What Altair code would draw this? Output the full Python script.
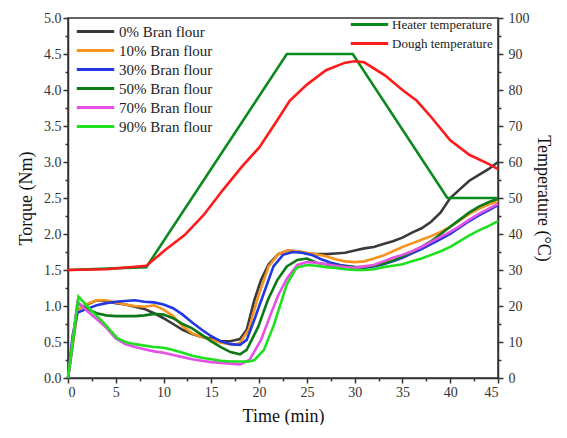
import altair as alt
import pandas as pd

FONT = "Liberation Serif"

series_names = ["0% Bran flour", "10% Bran flour", "30% Bran flour",
                "50% Bran flour", "70% Bran flour", "90% Bran flour"]
series_colors = ["#3a3a3a", "#f7941d", "#2338e0", "#0b7a16", "#e650e6", "#1ee01e"]

t_0 = [0, 1, 2, 3, 4, 5, 6, 7, 8, 9, 10, 11, 12, 13, 14, 15, 16, 17, 18, 18.7, 19.5, 20.2, 21, 22, 23, 24, 25, 26, 27, 28, 29, 30, 31, 32, 33, 34, 35, 36, 37, 38, 39, 40, 41, 42, 43, 44, 45]
v_0 = [0, 0.95, 1.02, 1.08, 1.07, 1.04, 1.02, 0.99, 0.96, 0.90, 0.83, 0.75, 0.67, 0.61, 0.57, 0.55, 0.51, 0.51, 0.54, 0.67, 1.08, 1.36, 1.58, 1.72, 1.77, 1.76, 1.73, 1.72, 1.72, 1.73, 1.74, 1.77, 1.80, 1.82, 1.86, 1.90, 1.95, 2.02, 2.08, 2.17, 2.30, 2.50, 2.62, 2.74, 2.82, 2.90, 3.00]

t_10 = [0, 1, 2, 3, 4, 5, 6, 7, 8, 9, 10, 11, 12, 13, 14, 15, 16, 17, 17.5, 18, 18.9, 19.9, 21, 22, 23, 24, 25, 26, 27, 28, 29, 30, 31, 32, 33, 34, 35, 36, 37, 38, 39, 40, 41, 42, 43, 44, 45]
v_10 = [0, 0.95, 1.03, 1.08, 1.08, 1.05, 1.02, 1.00, 0.99, 1.01, 0.95, 0.86, 0.72, 0.62, 0.57, 0.53, 0.49, 0.47, 0.46, 0.49, 0.67, 1.13, 1.55, 1.72, 1.77, 1.76, 1.74, 1.72, 1.69, 1.65, 1.62, 1.61, 1.62, 1.66, 1.70, 1.76, 1.82, 1.87, 1.92, 1.97, 2.03, 2.10, 2.19, 2.28, 2.35, 2.41, 2.46]

t_30 = [0, 0.5, 1, 2, 3, 4, 5, 6, 7, 8, 9, 10, 11, 12, 13, 14, 15, 16, 17, 18, 18.7, 19.5, 20.5, 21.5, 22.5, 23.5, 24.5, 25.5, 26.5, 27.5, 28.5, 30, 31, 32, 33, 34, 35, 36, 37, 38, 39, 40, 41, 42, 43, 44, 45]
v_30 = [0, 0.6, 0.91, 0.96, 1.01, 1.04, 1.06, 1.07, 1.08, 1.06, 1.05, 1.02, 0.97, 0.88, 0.77, 0.67, 0.58, 0.51, 0.47, 0.46, 0.53, 0.81, 1.18, 1.55, 1.71, 1.75, 1.74, 1.71, 1.65, 1.60, 1.57, 1.54, 1.53, 1.55, 1.58, 1.62, 1.67, 1.73, 1.79, 1.86, 1.93, 2.00, 2.09, 2.18, 2.26, 2.33, 2.40]

t_50 = [0, 1, 2, 3, 4, 5, 6, 7, 8, 9, 10, 11, 12, 13, 14, 15, 16, 17, 18, 18.7, 19.9, 20.9, 21.9, 22.9, 24, 25, 26, 27, 28, 30, 31, 32, 33, 34, 35, 36, 37, 38, 39, 40, 41, 42, 43, 44, 45]
v_50 = [0, 1.04, 0.96, 0.90, 0.87, 0.86, 0.86, 0.86, 0.87, 0.89, 0.88, 0.83, 0.75, 0.69, 0.60, 0.51, 0.43, 0.36, 0.33, 0.39, 0.71, 1.08, 1.36, 1.55, 1.64, 1.66, 1.60, 1.58, 1.56, 1.54, 1.54, 1.56, 1.59, 1.63, 1.69, 1.75, 1.82, 1.90, 2.00, 2.10, 2.20, 2.30, 2.38, 2.44, 2.49]

t_70 = [0, 1, 2, 3, 4, 5, 6, 7, 8, 9, 10, 11, 12, 13, 14, 15, 16, 17, 18, 19, 20.2, 21.2, 22, 22.9, 24, 25, 26, 27, 28, 29, 30, 31, 32, 33, 34, 35, 36, 37, 38, 39, 40, 41, 42, 43, 44, 45]
v_70 = [0, 1.06, 0.93, 0.82, 0.70, 0.55, 0.47, 0.43, 0.40, 0.37, 0.35, 0.32, 0.29, 0.26, 0.24, 0.22, 0.21, 0.20, 0.19, 0.25, 0.53, 0.88, 1.15, 1.38, 1.57, 1.61, 1.60, 1.58, 1.56, 1.54, 1.53, 1.55, 1.57, 1.62, 1.67, 1.71, 1.76, 1.82, 1.89, 1.96, 2.03, 2.11, 2.20, 2.28, 2.35, 2.42]

t_90 = [0, 1.1, 2, 2.7, 3.5, 4.5, 5.2, 6, 7, 8, 9, 10, 11, 12, 13, 14, 15, 16, 17, 18, 19, 19.5, 20.5, 21.5, 22.3, 22.9, 23.9, 25, 26, 27, 28, 29, 30, 31, 32, 33, 34, 35, 36, 37, 38, 39, 40, 41, 42, 43, 44, 45]
v_90 = [0, 1.13, 1.00, 0.90, 0.80, 0.65, 0.55, 0.50, 0.47, 0.45, 0.43, 0.42, 0.39, 0.35, 0.31, 0.28, 0.26, 0.24, 0.23, 0.23, 0.23, 0.25, 0.39, 0.72, 1.05, 1.30, 1.53, 1.57, 1.56, 1.54, 1.53, 1.51, 1.50, 1.50, 1.51, 1.54, 1.56, 1.58, 1.62, 1.66, 1.71, 1.76, 1.82, 1.90, 1.98, 2.05, 2.11, 2.18]

temp_names = ["Heater temperature", "Dough temperature"]
temp_colors = ["#0b8a1e", "#ff1a1a"]

t_heater = [0, 8.2, 22.9, 29.8, 39.7, 45]
v_heater = [30, 30.8, 90, 90, 50, 50]

t_dough = [0, 4, 8.2, 10.2, 12.2, 14.2, 16.2, 18.2, 20, 22, 23.2, 25, 27, 29, 30, 31, 33.2, 35, 36.5, 38, 40, 42, 44, 45]
v_dough = [30, 30.2, 31.2, 35.6, 39.7, 45.3, 52.2, 58.7, 64, 72, 77, 81.5, 85.5, 87.6, 88, 87.7, 84, 80, 77, 72.5, 66, 62, 59.5, 58]

x_ticks = [0, 5, 10, 15, 20, 25, 30, 35, 40, 45]
x_minor = [2.5, 7.5, 12.5, 17.5, 22.5, 27.5, 32.5, 37.5, 42.5]
y_ticks = [0, 0.5, 1.0, 1.5, 2.0, 2.5, 3.0, 3.5, 4.0, 4.5, 5.0]
y_minor = [0.25, 0.75, 1.25, 1.75, 2.25, 2.75, 3.25, 3.75, 4.25, 4.75]
y2_ticks = [0, 10, 20, 30, 40, 50, 60, 70, 80, 90, 100]
y2_minor = [5, 15, 25, 35, 45, 55, 65, 75, 85, 95]

rows = []
for name, ts, vs in zip(series_names, [t_0, t_10, t_30, t_50, t_70, t_90],
                        [v_0, v_10, v_30, v_50, v_70, v_90]):
    for i, (t, v) in enumerate(zip(ts, vs)):
        rows.append({"series": name, "time": t, "torque": v, "order": i})
torque_df = pd.DataFrame(rows)

rows = []
for name, ts, vs in zip(temp_names, [t_heater, t_dough], [v_heater, v_dough]):
    for i, (t, v) in enumerate(zip(ts, vs)):
        rows.append({"series": name, "time": t, "temp": v, "order": i})
temp_df = pd.DataFrame(rows)

W, H = 430, 360

axis_common = dict(grid=False, labelFont=FONT, titleFont=FONT, labelFontSize=14,
                   titleFontSize=18, titleFontWeight="normal", labelColor="#333",
                   titleColor="#111")
minor_common = dict(grid=False, labels=False, domain=False, title=None, tickSize=3)

x_scale = alt.Scale(domain=[0, 45], nice=False)
yl_scale = alt.Scale(domain=[0, 5], nice=False)
yr_scale = alt.Scale(domain=[0, 100], nice=False)

torque = alt.Chart(torque_df).mark_line(strokeWidth=2.6).encode(
    x=alt.X("time:Q", scale=x_scale,
            axis=alt.Axis(values=x_ticks, title="Time (min)", titlePadding=8,
                          orient="bottom", **axis_common)),
    y=alt.Y("torque:Q", scale=yl_scale,
            axis=alt.Axis(values=y_ticks, format=".1f", title="Torque (Nm)",
                          titlePadding=8, orient="left", **axis_common)),
    color=alt.Color("series:N", scale=alt.Scale(domain=series_names, range=series_colors),
                    sort=series_names,
                    legend=alt.Legend(title=None, orient="none", legendX=7, legendY=5,
                                      symbolType="stroke", symbolSize=1400,
                                      symbolStrokeWidth=3, labelFontSize=15,
                                      labelFont=FONT, labelColor="#222", clipHeight=17,
                                      rowPadding=2, labelOffset=3, padding=0)),
    order="order:Q",
)

temp = alt.Chart(temp_df).mark_line(strokeWidth=2.6).encode(
    x=alt.X("time:Q", scale=x_scale, axis=None),
    y=alt.Y("temp:Q", scale=yr_scale,
            axis=alt.Axis(values=y2_ticks, orient="right", title="Temperature (°C)",
                          titlePadding=4, labelPadding=5, **axis_common)),
    color=alt.Color("series:N", scale=alt.Scale(domain=temp_names, range=temp_colors),
                    sort=temp_names,
                    legend=alt.Legend(title=None, orient="none", legendX=W - 149, legendY=-2,
                                      symbolType="stroke", symbolSize=1400,
                                      symbolStrokeWidth=3, labelFontSize=13,
                                      labelFont=FONT, labelColor="#222", clipHeight=17,
                                      rowPadding=2, labelOffset=2, padding=0)),
    order="order:Q",
)

minor_left = alt.Chart(torque_df).mark_line(opacity=0).encode(
    x=alt.X("time:Q", scale=x_scale,
            axis=alt.Axis(values=x_minor, orient="bottom", **minor_common)),
    y=alt.Y("torque:Q", scale=yl_scale,
            axis=alt.Axis(values=y_minor, orient="left", **minor_common)),
    detail="series:N",
)

minor_right = alt.Chart(temp_df).mark_line(opacity=0).encode(
    x=alt.X("time:Q", scale=x_scale, axis=None),
    y=alt.Y("temp:Q", scale=yr_scale,
            axis=alt.Axis(values=y2_minor, orient="right", **minor_common)),
    detail="series:N",
)

chart = alt.layer(torque, temp, minor_left, minor_right).resolve_scale(
    x="independent", y="independent", color="independent"
).properties(
    width=W, height=H, padding={"left": 9, "top": 3, "right": 6, "bottom": 0}
).configure_view(stroke="#333", strokeWidth=1.5).configure_axis(
    domainColor="#333", domainWidth=1.5, tickColor="#333", tickWidth=1.5, tickSize=5,
).configure_legend(labelFont=FONT)

chart.save("out.html", embed_options={"renderer": "svg", "actions": False})
